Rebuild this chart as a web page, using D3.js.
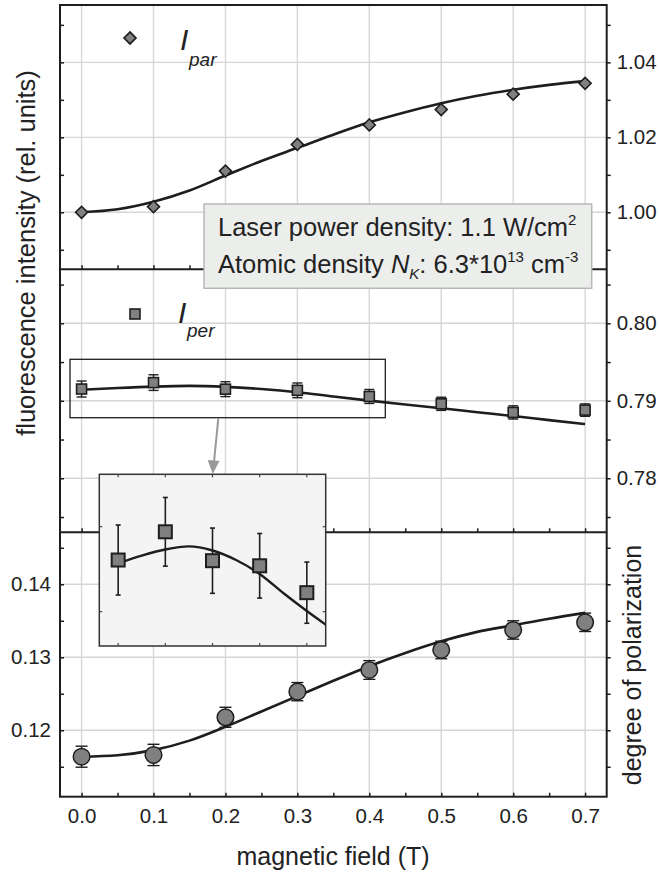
<!DOCTYPE html>
<html>
<head>
<meta charset="utf-8">
<script src="https://cdn.jsdelivr.net/npm/d3@7"></script>
<style>
  body { margin: 0; background: #fff; }
  svg text { font-family: "Liberation Sans", Arial, Helvetica, sans-serif; fill: #222; }
</style>
</head>
<body>
<svg id="chart" width="659" height="873"></svg>
<script>
// measured points (magnetic field in T)
const field = [0, 0.1, 0.2, 0.3, 0.4, 0.5, 0.6, 0.7]
const iPar = [1.0000, 1.0015, 1.0110, 1.0181, 1.0233, 1.0274, 1.0315, 1.0344]
const iPer = [0.79152, 0.79235, 0.79150, 0.79135, 0.79056, 0.78961, 0.78850, 0.78880]
const iPerErr = [0.00103, 0.00101, 0.00096, 0.00095, 0.00090, 0.00085, 0.00085, 0.00080]
const pol = [0.11638, 0.11662, 0.12178, 0.12529, 0.12826, 0.13100, 0.13374, 0.13479]
const polErr = [0.00144, 0.00146, 0.00137, 0.00125, 0.00128, 0.00120, 0.00126, 0.00126]

const fitField = [0, 0.05, 0.1, 0.15, 0.2, 0.25, 0.3, 0.35, 0.4, 0.45, 0.5, 0.55, 0.6, 0.65, 0.7]
const iParFit = [1.0000, 1.0008, 1.0028, 1.0058, 1.0098, 1.0137, 1.0172, 1.0207, 1.0240, 1.0267, 1.0291, 1.0311, 1.0327, 1.0340, 1.0350]
const iPerFit = [0.79142, 0.79165, 0.79183, 0.79192, 0.79180, 0.79152, 0.79111, 0.79055, 0.79002, 0.78952, 0.78904, 0.78853, 0.78803, 0.78751, 0.78700]
const polFit = [0.11638, 0.11658, 0.11728, 0.11858, 0.12048, 0.12258, 0.12468, 0.12678, 0.12878, 0.13058, 0.13218, 0.13348, 0.13438, 0.13528, 0.13608]

// ticks
const xTicks = [0, 0.1, 0.2, 0.3, 0.4, 0.5, 0.6, 0.7]
const xMinor = [0.05, 0.15, 0.25, 0.35, 0.45, 0.55, 0.65]
const parTicks = [0.99, 1.00, 1.01, 1.02, 1.03, 1.04, 1.05]
const parLabels = [1.00, 1.02, 1.04]
const perTicks = [0.775, 0.78, 0.785, 0.79, 0.795, 0.80, 0.805]
const perLabels = [0.78, 0.79, 0.80]
const polTicks = [0.115, 0.12, 0.125, 0.13, 0.135, 0.14, 0.145]
const polLabels = [0.12, 0.13, 0.14]
const insetXTicks = [0, 0.1, 0.2, 0.3, 0.4]
const insetYTicks = [0.79, 0.7925]

const svg = d3.select('#chart')
const L = 60, R = 606.7, T = 5, B = 796.7, D1 = 269.3, D2 = 532.3

const x = d3.scaleLinear().domain([-0.03, 0.73]).range([L, R])
const yPar = d3.scaleLinear().domain([0.9848, 1.0553]).range([D1, T])
const yPer = d3.scaleLinear().domain([0.77303, 0.80697]).range([D2, D1])
const yPol = d3.scaleLinear().domain([0.1109, 0.14712]).range([B, D2])

const panels = [
  { y: yPar, top: T, bottom: D1, ticks: parTicks, labels: parLabels, side: 'right' },
  { y: yPer, top: D1, bottom: D2, ticks: perTicks, labels: perLabels, side: 'right' },
  { y: yPol, top: D2, bottom: B, ticks: polTicks, labels: polLabels, side: 'left' }
]

const gridColor = '#d6d6d6'
const ink = '#1e1e1e'
const markFill = '#808080'

// grid
const grid = svg.append('g')
grid.selectAll('line.v').data(xTicks).enter().append('line')
  .attr('x1', d => x(d)).attr('x2', d => x(d))
  .attr('y1', T).attr('y2', B)
  .attr('stroke', gridColor).attr('stroke-width', 1.4)
panels.forEach(p => {
  grid.selectAll(null).data(p.labels).enter().append('line')
    .attr('x1', L).attr('x2', R)
    .attr('y1', d => p.y(d)).attr('y2', d => p.y(d))
    .attr('stroke', gridColor).attr('stroke-width', 1.4)
})

// axes
const fmt2 = d3.format('.2f')
panels.forEach(p => {
  const isLabel = d => p.labels.some(v => Math.abs(v - d) < 1e-9)
  const left = svg.append('g').attr('transform', `translate(${L},0)`)
    .call(d3.axisLeft(p.y).tickValues(p.ticks).tickSizeInner(-4).tickSizeOuter(0).tickPadding(9)
      .tickFormat(d => p.side === 'left' && isLabel(d) ? fmt2(d) : ''))
  const right = svg.append('g').attr('transform', `translate(${R},0)`)
    .call(d3.axisRight(p.y).tickValues(p.ticks).tickSizeInner(4).tickSizeOuter(0).tickPadding(6)
      .tickFormat(d => p.side === 'right' && isLabel(d) ? fmt2(d) : ''))
  ;[left, right].forEach(g => {
    g.select('.domain').remove()
    g.selectAll('line').attr('stroke', ink).attr('stroke-width', 1.5)
    g.selectAll('text').attr('font-size', 20.5).attr('fill', '#222')
  })
  const bx = svg.append('g').attr('transform', `translate(0,${p.bottom})`)
    .call(d3.axisBottom(x).tickValues(xTicks.concat(xMinor)).tickSizeInner(-4).tickSizeOuter(0).tickPadding(12)
      .tickFormat(d => p.bottom === B && xTicks.includes(d) ? d3.format('.1f')(d) : ''))
  bx.select('.domain').remove()
  bx.selectAll('line').attr('stroke', ink).attr('stroke-width', 1.5)
  bx.selectAll('text').attr('font-size', 20.5).attr('fill', '#222')
})

// frame and dividers
svg.append('rect').attr('x', L).attr('y', T).attr('width', R - L).attr('height', B - T)
  .attr('fill', 'none').attr('stroke', ink).attr('stroke-width', 2)
svg.selectAll('line.div').data([D1, D2]).enter().append('line')
  .attr('x1', L).attr('x2', R).attr('y1', d => d).attr('y2', d => d)
  .attr('stroke', ink).attr('stroke-width', 2)

// fit lines
const fitLine = (y) => d3.line().x((d, i) => x(fitField[i])).y(d => y(d)).curve(d3.curveMonotoneX)
const fits = [[iParFit, yPar], [iPerFit, yPer], [polFit, yPol]]
fits.forEach(([vals, y]) => {
  svg.append('path').datum(vals).attr('d', fitLine(y))
    .attr('fill', 'none').attr('stroke', ink).attr('stroke-width', 2.6)
})

// error bars
function errorBars(g, xs, vals, errs, xs_, ys_, cap, w) {
  const eg = g.append('g').attr('stroke', ink).attr('stroke-width', w)
  vals.forEach((v, i) => {
    const cx = xs_(xs[i])
    eg.append('line').attr('x1', cx).attr('x2', cx).attr('y1', ys_(v - errs[i])).attr('y2', ys_(v + errs[i]))
    eg.append('line').attr('x1', cx - cap).attr('x2', cx + cap).attr('y1', ys_(v - errs[i])).attr('y2', ys_(v - errs[i]))
    eg.append('line').attr('x1', cx - cap).attr('x2', cx + cap).attr('y1', ys_(v + errs[i])).attr('y2', ys_(v + errs[i]))
  })
}
errorBars(svg, field, iPer, iPerErr, x, yPer, 5, 1.4)
errorBars(svg, field, pol, polErr, x, yPol, 6, 1.4)

// markers
const diamond = d3.symbol().type(d3.symbolSquare).size(72)
svg.append('g').selectAll('path').data(iPar).enter().append('path')
  .attr('d', diamond)
  .attr('transform', (d, i) => `translate(${x(field[i])},${yPar(d)}) rotate(45)`)
  .attr('fill', markFill).attr('stroke', ink).attr('stroke-width', 1.6)

svg.append('g').selectAll('rect').data(iPer).enter().append('rect')
  .attr('x', (d, i) => x(field[i]) - 5).attr('y', d => yPer(d) - 5)
  .attr('width', 10).attr('height', 10)
  .attr('fill', markFill).attr('stroke', ink).attr('stroke-width', 1.6)

svg.append('g').selectAll('circle').data(pol).enter().append('circle')
  .attr('cx', (d, i) => x(field[i])).attr('cy', d => yPol(d)).attr('r', 8.3)
  .attr('fill', markFill).attr('stroke', ink).attr('stroke-width', 1.5)

// legends
svg.append('path').attr('d', diamond).attr('transform', 'translate(130,38) rotate(45)')
  .attr('fill', markFill).attr('stroke', ink).attr('stroke-width', 1.6)
svg.append('text').attr('x', 180).attr('y', 50).attr('font-size', 30).attr('font-style', 'italic').text('I')
svg.append('text').attr('x', 189).attr('y', 66).attr('font-size', 19).attr('font-style', 'italic').text('par')

svg.append('rect').attr('x', 130).attr('y', 309).attr('width', 10).attr('height', 10)
  .attr('fill', markFill).attr('stroke', ink).attr('stroke-width', 1.6)
svg.append('text').attr('x', 178).attr('y', 323).attr('font-size', 30).attr('font-style', 'italic').text('I')
svg.append('text').attr('x', 187).attr('y', 337).attr('font-size', 19).attr('font-style', 'italic').text('per')

// selection box around first points
svg.append('rect').attr('x', 70).attr('y', 359.3).attr('width', 315.3).attr('height', 58.4)
  .attr('fill', 'none').attr('stroke', ink).attr('stroke-width', 1.3)

// arrow
svg.append('line').attr('x1', 218.3).attr('y1', 418.3).attr('x2', 214).attr('y2', 462)
  .attr('stroke', '#999').attr('stroke-width', 2)
svg.append('polygon').attr('points', '212.7,474 207.7,460 219.5,461').attr('fill', '#999')

// info box
const info = svg.append('g')
info.append('rect').attr('x', 204).attr('y', 204).attr('width', 387.7).attr('height', 84.3)
  .attr('fill', '#eceeec').attr('stroke', '#b8b8b8').attr('stroke-width', 1.5)
const t1 = info.append('text').attr('x', 218).attr('y', 236).attr('font-size', 25.5)
t1.append('tspan').text('Laser power density: 1.1 W/cm')
t1.append('tspan').attr('dy', -11).attr('font-size', 15).text('2')
const t2 = info.append('text').attr('x', 218).attr('y', 273).attr('font-size', 25.5)
t2.append('tspan').text('Atomic density ')
t2.append('tspan').attr('font-style', 'italic').text('N')
t2.append('tspan').attr('font-style', 'italic').attr('font-size', 15).attr('dy', 6).text('K')
t2.append('tspan').attr('dy', -6).text(': 6.3*10')
t2.append('tspan').attr('dy', -11).attr('font-size', 15).text('13')
t2.append('tspan').attr('dy', 11).text(' cm')
t2.append('tspan').attr('dy', -11).attr('font-size', 15).text('-3')

// inset (magnified view of first five I_per points)
const IL = 99.3, IR = 325.7, IT = 474.3, IB = 646
const ix = d3.scaleLinear().domain([-0.04, 0.44]).range([IL, IR])
const iy = d3.scaleLinear().domain([0.79, 0.7925]).range([611.7, 526.7])
const inset = svg.append('g')
inset.append('rect').attr('x', IL).attr('y', IT).attr('width', IR - IL).attr('height', IB - IT)
  .attr('fill', '#f3f4f3').attr('stroke', '#333').attr('stroke-width', 1.5)
svg.append('clipPath').attr('id', 'insetClip').append('rect')
  .attr('x', IL).attr('y', IT).attr('width', IR - IL).attr('height', IB - IT)
const insetTicks = inset.append('g').attr('stroke', '#444').attr('stroke-width', 1.2)
insetXTicks.forEach(v => {
  insetTicks.append('line').attr('x1', ix(v)).attr('x2', ix(v)).attr('y1', IB).attr('y2', IB - 3)
  insetTicks.append('line').attr('x1', ix(v)).attr('x2', ix(v)).attr('y1', IT).attr('y2', IT + 3)
})
insetYTicks.forEach(v => {
  insetTicks.append('line').attr('x1', IR).attr('x2', IR - 3).attr('y1', iy(v)).attr('y2', iy(v))
  insetTicks.append('line').attr('x1', IL).attr('x2', IL + 3).attr('y1', iy(v)).attr('y2', iy(v))
})
const nIn = 5
const inFitIdx = fitField.map((f, i) => i).filter(i => fitField[i] <= 0.45)
inset.append('path').datum(inFitIdx)
  .attr('d', d3.line().x(i => ix(fitField[i])).y(i => iy(iPerFit[i])).curve(d3.curveMonotoneX))
  .attr('clip-path', 'url(#insetClip)')
  .attr('fill', 'none').attr('stroke', ink).attr('stroke-width', 2.4)
errorBars(inset, field.slice(0, nIn), iPer.slice(0, nIn), iPerErr.slice(0, nIn), ix, iy, 2.5, 1.6)
inset.append('g').selectAll('rect').data(iPer.slice(0, nIn)).enter().append('rect')
  .attr('x', (d, i) => ix(field[i]) - 6.5).attr('y', d => iy(d) - 6.5)
  .attr('width', 13).attr('height', 13)
  .attr('fill', markFill).attr('stroke', ink).attr('stroke-width', 2)

// axis titles
svg.append('text').attr('transform', 'translate(35,253) rotate(-90)')
  .attr('text-anchor', 'middle').attr('font-size', 25.5).text('fluorescence intensity (rel. units)')
svg.append('text').attr('transform', 'translate(641,665) rotate(-90)')
  .attr('text-anchor', 'middle').attr('font-size', 25).text('degree of polarization')
svg.append('text').attr('x', 333).attr('y', 865)
  .attr('text-anchor', 'middle').attr('font-size', 25).text('magnetic field (T)')
</script>
</body>
</html>
